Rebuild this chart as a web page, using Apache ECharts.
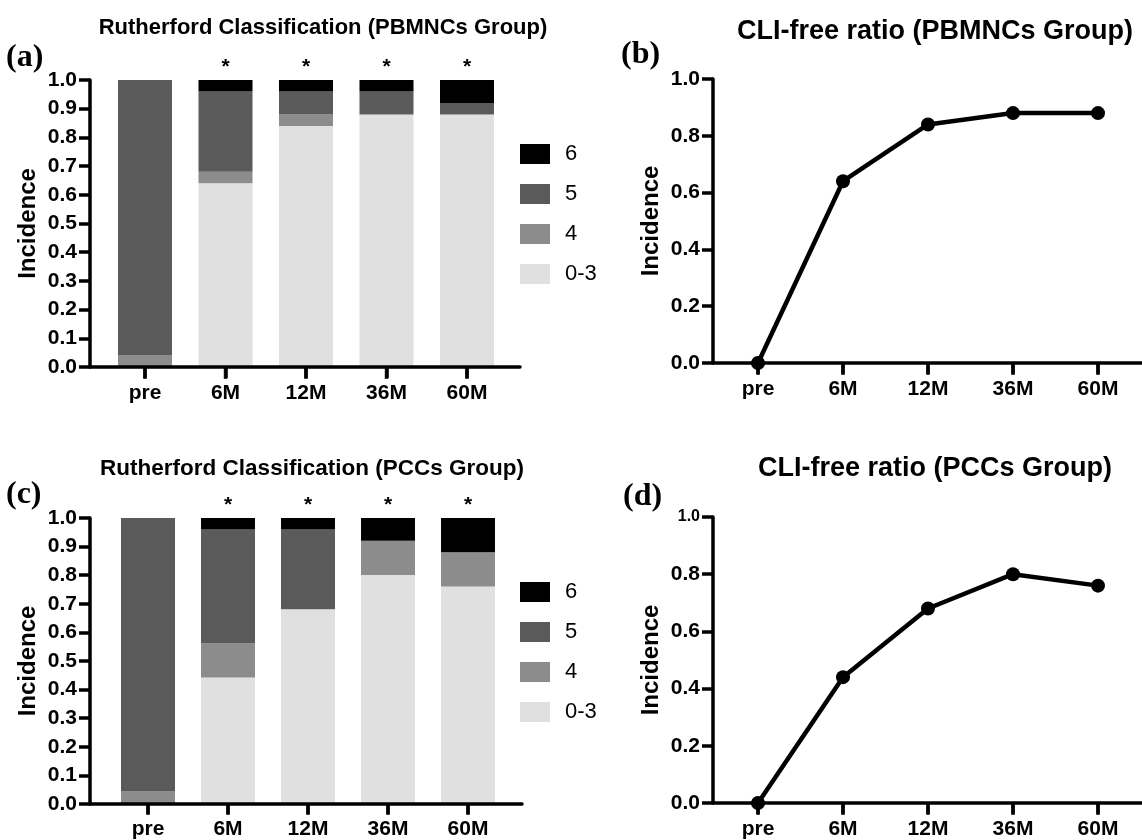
<!DOCTYPE html>
<html>
<head>
<meta charset="utf-8">
<script src="https://cdn.jsdelivr.net/npm/echarts@6/dist/echarts.min.js"></script>
<style>html,body{margin:0;padding:0;background:#fff;}#c{width:1142px;height:840px;}</style>
</head>
<body>
<div id="c"></div>
<script>
// ---------- data ----------
const categories = ['pre', '6M', '12M', '36M', '60M'];
const stageNames = ['0-3', '4', '5', '6'];
const legendOrder = ['6', '5', '4', '0-3'];
const stageColors = ['#e0e0e0', '#8c8c8c', '#5a5a5a', '#000000'];

// Rutherford classification, PBMNCs group (proportions)
const pbmnc_0_3 = [0, 0.64, 0.84, 0.88, 0.88];
const pbmnc_4   = [0.04, 0.04, 0.04, 0, 0];
const pbmnc_5   = [0.96, 0.28, 0.08, 0.08, 0.04];
const pbmnc_6   = [0, 0.04, 0.04, 0.04, 0.08];

// Rutherford classification, PCCs group
const pcc_0_3 = [0, 0.44, 0.68, 0.80, 0.76];
const pcc_4   = [0.04, 0.12, 0, 0.12, 0.12];
const pcc_5   = [0.96, 0.40, 0.28, 0, 0];
const pcc_6   = [0, 0.04, 0.04, 0.08, 0.12];

// CLI-free ratio
const pbmnc_free = [0, 0.64, 0.84, 0.88, 0.88];
const pcc_free   = [0, 0.44, 0.68, 0.80, 0.76];

// significance marks (*)
const significance = [false, true, true, true, true];

// ---------- helpers ----------
const FONT = "'Liberation Sans', Arial, Helvetica, sans-serif";
const lineSt = () => ({ color: '#000', width: 3.5 });

// frame grid: axis line + y axis with labels/name
function frameX(gridIndex) {
  return { type: 'value', gridIndex, min: 0, max: 1, position: 'bottom', z: 10,
    axisLine: { show: true, onZero: false, lineStyle: lineSt() },
    axisTick: { show: false }, axisLabel: { show: false }, splitLine: { show: false } };
}
function frameY(gridIndex, interval, smallTop) {
  const lab = { fontFamily: FONT, fontWeight: 'bold', fontSize: 21, color: '#000', margin: 13,
    formatter: v => (smallTop && v === 1) ? '{s|1.0}' : v.toFixed(1) };
  if (smallTop) lab.rich = { s: { fontFamily: FONT, fontWeight: 'bold', fontSize: 16, color: '#000' } };
  return {
    type: 'value', gridIndex, min: 0, max: 1, interval, z: 10,
    name: 'Incidence', nameLocation: 'middle', nameGap: 50, nameRotate: 90,
    nameTextStyle: { fontFamily: FONT, fontWeight: 'bold', fontSize: 24, color: '#000' },
    axisLine: { show: true, lineStyle: lineSt() },
    axisTick: { show: true, length: 11, lineStyle: lineSt() },
    axisLabel: lab, splitLine: { show: false }
  };
}
// data grid: category x axis (labels), hidden y axis
function dataX(gridIndex) {
  return { type: 'category', gridIndex, data: categories, boundaryGap: true, position: 'bottom', z: 10,
    axisLine: { show: false },
    axisTick: { show: true, alignWithLabel: true, length: 11, interval: 0, lineStyle: lineSt() },
    axisLabel: { fontFamily: FONT, fontWeight: 'bold', fontSize: 21, color: '#000', margin: 16, interval: 0 },
    splitLine: { show: false } };
}
function dataY(gridIndex) {
  return { type: 'value', gridIndex, min: 0, max: 1, show: false, splitLine: { show: false } };
}
// tick marks below each category, placed by the category axis
function tickSeries(axisIdx) {
  return {
    type: 'scatter', xAxisIndex: axisIdx, yAxisIndex: axisIdx,
    data: categories.map(c => [c, 0]),
    symbol: 'rect', symbolSize: [3.5, 12], symbolOffset: [0, 6],
    itemStyle: { color: '#000' }, silent: true, clip: false, z: 10, animation: false
  };
}
function barSeries(axisIdx, stackName, values) {
  return values.map((vals, s) => {
    const ser = {
      name: stageNames[s], type: 'bar', stack: stackName,
      xAxisIndex: axisIdx, yAxisIndex: axisIdx, barWidth: 54,
      itemStyle: { color: stageColors[s] },
      data: vals, animation: false
    };
    if (s === values.length - 1) {
      ser.label = { show: true, position: 'top', distance: 2,
        formatter: p => significance[p.dataIndex] ? '*' : '',
        fontFamily: FONT, fontWeight: 'bold', fontSize: 21, color: '#000' };
    }
    return ser;
  });
}
function lineSeries(axisIdx, name, vals) {
  return {
    name, type: 'line', xAxisIndex: axisIdx, yAxisIndex: axisIdx,
    data: vals, symbol: 'circle', symbolSize: 14,
    lineStyle: { color: '#000', width: 4.5 }, itemStyle: { color: '#000' },
    animation: false, clip: false, z: 12
  };
}
const titleStyle = size => ({ fontFamily: FONT, fontWeight: 'bold', fontSize: size, color: '#000' });
const panelLabel = (text, left, top) => ({ type: 'text', left, top,
  style: { text, fontFamily: "'Liberation Serif', 'Times New Roman', serif", fontWeight: 'bold', fontSize: 32, fill: '#000' } });
const legendDef = top => ({
  data: legendOrder, orient: 'vertical', left: 515, top,
  icon: 'rect', itemWidth: 30, itemHeight: 20, itemGap: 18,
  textStyle: { fontFamily: FONT, fontSize: 22, color: '#000', padding: [0, 0, 0, 10] },
  selectedMode: false
});

const option = {
  backgroundColor: '#fff',
  animation: false,
  title: [
    { text: 'Rutherford Classification (PBMNCs Group)', left: 318, top: 12, textAlign: 'center', textStyle: titleStyle(22) },
    { text: 'CLI-free ratio (PBMNCs Group)', left: 930, top: 13, textAlign: 'center', textStyle: titleStyle(27) },
    { text: 'Rutherford Classification (PCCs Group)', left: 307, top: 452, textAlign: 'center', textStyle: titleStyle(22.5) },
    { text: 'CLI-free ratio (PCCs Group)', left: 930, top: 450, textAlign: 'center', textStyle: titleStyle(27) }
  ],
  legend: [legendDef(138), legendDef(576)],
  grid: [
    { left: 90, top: 80, width: 430, height: 287 },       // 0 frame a
    { left: 104.75, top: 80, width: 402.5, height: 287 }, // 1 data a
    { left: 713, top: 79, width: 429, height: 284 },      // 2 frame b
    { left: 715.5, top: 79, width: 425, height: 284 },    // 3 data b
    { left: 90, top: 518, width: 432, height: 286 },      // 4 frame c
    { left: 108, top: 518, width: 400, height: 286 },     // 5 data c
    { left: 713, top: 517, width: 429, height: 286 },     // 6 frame d
    { left: 715.5, top: 517, width: 425, height: 286 }    // 7 data d
  ],
  xAxis: [frameX(0), dataX(1), frameX(2), dataX(3), frameX(4), dataX(5), frameX(6), dataX(7)],
  yAxis: [frameY(0, 0.1, false), dataY(1), frameY(2, 0.2, false), dataY(3),
          frameY(4, 0.1, false), dataY(5), frameY(6, 0.2, true), dataY(7)],
  series: [
    ...barSeries(1, 'pbmnc', [pbmnc_0_3, pbmnc_4, pbmnc_5, pbmnc_6]),
    tickSeries(1),
    lineSeries(3, 'CLI-free (PBMNCs)', pbmnc_free),
    tickSeries(3),
    ...barSeries(5, 'pcc', [pcc_0_3, pcc_4, pcc_5, pcc_6]),
    tickSeries(5),
    lineSeries(7, 'CLI-free (PCCs)', pcc_free),
    tickSeries(7)
  ],
  graphic: [
    panelLabel('(a)', 6, 42),
    panelLabel('(b)', 621, 39),
    panelLabel('(c)', 6, 479),
    panelLabel('(d)', 623, 481)
  ]
};
const chart = echarts.init(document.getElementById('c'), null, { renderer: 'canvas' });
chart.setOption(option);
</script>
</body>
</html>
